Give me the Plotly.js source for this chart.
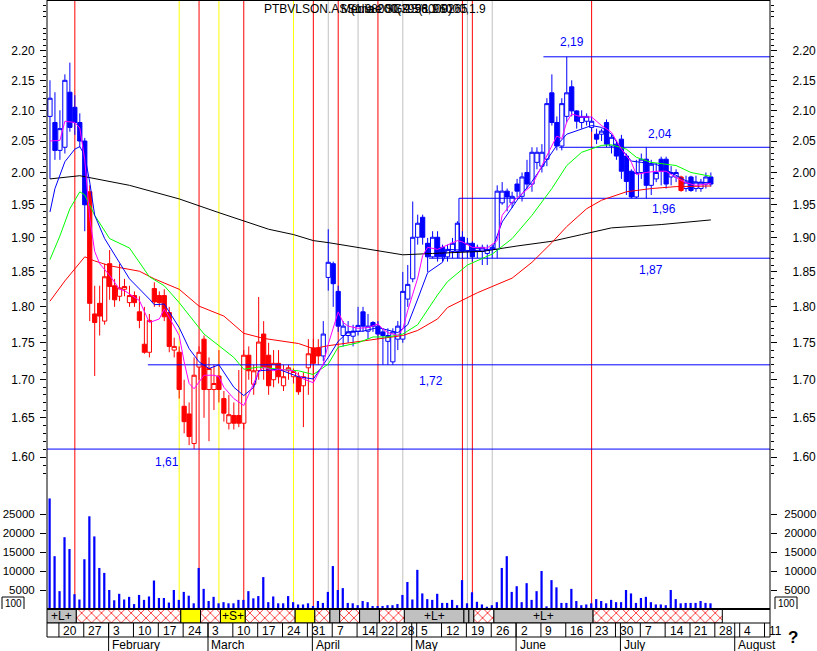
<!DOCTYPE html>
<html><head><meta charset="utf-8">
<script src="https://cdn.plot.ly/plotly-3.0.1.min.js"></script>
<style>html,body{margin:0;padding:0;background:#fff;}#chart{width:817px;height:651px;}</style>
</head><body><div id="chart"></div>
<script>
// ---------- trading calendar (categories) ----------
const START = '2014-01-16', END = '2014-08-12';
const holidays = ['2014-04-18', '2014-04-21', '2014-05-01'];
const monthNames = ['January','February','March','April','May','June','July','August','September','October','November','December'];

// ---------- daily candles ----------
const openP = [2.090,2.080,2.035,2.040,2.130,2.105,2.080,2.050,1.970,1.790,1.805,1.780,1.862,1.830,1.815,1.825,1.806,1.816,1.793,1.748,
1.737,1.826,1.816,1.816,1.792,1.740,1.737,1.665,1.655,1.617,1.717,1.755,1.687,1.687,1.705,1.675,1.643,1.653,1.653,1.643,
1.733,1.694,1.712,1.762,1.733,1.700,1.722,1.692,1.712,1.704,1.704,1.692,1.716,1.743,1.743,1.732,1.842,1.862,1.822,1.760,
1.760,1.759,1.766,1.793,1.766,1.778,1.773,1.765,1.752,1.724,1.755,1.755,1.811,1.840,1.901,1.931,1.892,1.872,1.901,1.886,
1.872,1.880,1.880,1.901,1.880,1.892,1.880,1.880,1.877,1.883,1.883,1.953,1.971,1.953,1.982,1.963,2.000,1.982,2.016,2.010,
2.021,2.129,2.080,2.042,2.090,2.139,2.099,2.080,2.082,2.072,2.061,2.061,2.080,2.042,2.045,2.053,2.026,2.002,1.962,2.000,
2.021,1.980,1.990,2.021,2.021,1.993,1.993,1.993,1.975,1.993,1.975,1.975,1.982,1.993];
const highP = [2.150,2.130,2.100,2.160,2.180,2.125,2.095,2.055,1.980,1.830,1.830,1.862,1.882,1.840,1.862,1.840,1.830,1.822,1.815,1.800,
1.790,1.835,1.822,1.825,1.800,1.757,1.745,1.700,1.670,1.730,1.745,1.760,1.730,1.720,1.740,1.685,1.680,1.670,1.713,1.740,
1.745,1.720,1.814,1.780,1.750,1.740,1.740,1.720,1.720,1.715,1.710,1.710,1.755,1.755,1.755,1.780,1.913,1.865,1.830,1.780,
1.780,1.775,1.800,1.800,1.790,1.780,1.780,1.770,1.770,1.770,1.780,1.850,1.860,1.955,1.935,1.935,1.900,1.910,1.910,1.890,
1.890,1.900,1.925,1.910,1.900,1.895,1.890,1.890,1.890,1.890,1.980,1.985,1.975,1.970,1.990,2.000,2.020,2.040,2.040,2.045,
2.120,2.160,2.090,2.120,2.190,2.150,2.100,2.100,2.095,2.090,2.070,2.070,2.085,2.060,2.050,2.060,2.030,2.005,2.020,2.030,
2.040,2.020,2.015,2.025,2.025,2.010,2.005,1.995,1.995,1.995,1.995,1.990,2.000,2.000];
const lowP = [1.990,2.020,2.020,2.030,2.065,2.060,2.040,1.910,1.780,1.705,1.760,1.775,1.810,1.800,1.808,1.815,1.800,1.800,1.770,1.735,
1.730,1.800,1.800,1.780,1.737,1.730,1.675,1.630,1.615,1.610,1.700,1.650,1.620,1.660,1.670,1.645,1.635,1.635,1.638,1.635,
1.700,1.680,1.700,1.700,1.680,1.690,1.695,1.685,1.700,1.695,1.680,1.638,1.680,1.700,1.720,1.725,1.823,1.800,1.765,1.745,
1.750,1.745,1.760,1.765,1.755,1.765,1.755,1.720,1.720,1.720,1.740,1.750,1.800,1.835,1.890,1.890,1.850,1.870,1.865,1.865,
1.865,1.870,1.870,1.870,1.870,1.865,1.870,1.860,1.860,1.870,1.870,1.950,1.940,1.945,1.962,1.955,1.975,1.970,2.005,2.000,
2.010,2.075,2.035,2.035,2.080,2.090,2.070,2.070,2.075,2.065,2.045,2.050,2.040,2.030,2.020,1.990,1.965,1.960,1.960,1.990,
1.960,1.965,1.985,1.980,1.975,1.980,1.985,1.970,1.970,1.970,1.970,1.970,1.975,1.978];
const closeP = [2.120,2.035,2.070,2.150,2.072,2.080,2.050,1.950,1.805,1.778,1.787,1.843,1.829,1.810,1.827,1.829,1.816,1.806,1.781,1.737,
1.781,1.807,1.806,1.786,1.745,1.745,1.687,1.645,1.626,1.706,1.737,1.687,1.715,1.695,1.687,1.656,1.654,1.643,1.643,1.733,
1.712,1.712,1.751,1.717,1.692,1.722,1.704,1.704,1.716,1.711,1.684,1.704,1.735,1.722,1.732,1.762,1.864,1.833,1.773,1.773,
1.765,1.766,1.774,1.773,1.773,1.773,1.762,1.760,1.760,1.765,1.773,1.822,1.832,1.901,1.922,1.901,1.872,1.901,1.872,1.872,
1.883,1.892,1.922,1.880,1.892,1.872,1.886,1.886,1.883,1.886,1.971,1.971,1.962,1.963,1.971,1.993,1.982,2.032,2.032,2.032,
2.111,2.080,2.042,2.111,2.129,2.099,2.082,2.090,2.090,2.082,2.053,2.066,2.045,2.056,2.026,2.002,1.986,1.962,2.000,2.021,
1.980,2.013,2.000,2.002,1.982,2.000,2.000,1.972,1.985,1.972,1.985,1.985,1.993,1.982];
// candle colour per day: b = blue, r = red
const candleColor = 'bbbbbbbb' + 'r'.repeat(47) + 'b'.repeat(72) + 'r' + 'bbbbbb';

// ---------- volume ----------
const volume = [29100,13900,4700,18900,15800,3900,2500,13100,24400,19100,10800,9500,5000,2300,4000,2500,3200,1300,3700,2400,
3300,7500,2900,2900,1700,5000,2400,4500,3500,1500,10800,5300,2100,3200,1500,1800,1500,1500,2400,2400,
4700,2800,3400,8400,1800,3300,1500,1500,3400,1800,1200,1200,1500,800,2100,1600,4500,11300,5000,5500,
1600,1500,1000,2100,1800,800,800,800,1000,1000,1300,3700,7100,2500,10300,4100,2600,2400,4000,1600,
1600,2400,1000,7600,1500,4400,1900,1200,600,1000,1800,10800,13900,4500,6000,1800,6800,2400,4700,10000,
700,7600,5700,1600,1600,5300,2100,1000,1200,1500,2600,2100,1500,2400,1800,1800,5000,4100,1600,2900,
3200,1800,1200,1200,1000,5000,2600,1500,1600,1600,1600,2100,1600,1500];

// ---------- moving averages (day index, value) ----------
const maMagentaIdx = [0,2,3,5,6,7,8,9,10,12,14,15,18,19,20,22,23,24,26,27,28,29,30,31,33,34,35,37,39,40,42,43,45,46,49,51,53,55,56,58,59,60,62,64,66,67,68,70,71,72,74,75,76,78,82,83,85,88,90,91,93,95,97,99,101,102,103,104,105,107,109,111,113,115,117,118,120,122,124,126,128,130,133];
const maMagentaVal = [2.050,2.051,2.082,2.080,2.071,2.020,1.930,1.880,1.862,1.845,1.825,1.823,1.809,1.793,1.778,1.783,1.797,1.785,1.760,1.724,1.695,1.688,1.697,1.706,1.706,1.704,1.690,1.675,1.666,1.681,1.710,1.717,1.712,1.714,1.712,1.701,1.696,1.721,1.748,1.793,1.778,1.773,1.770,1.771,1.776,1.769,1.764,1.760,1.769,1.795,1.841,1.874,1.886,1.883,1.896,1.894,1.886,1.885,1.896,1.934,1.954,1.967,1.980,2.011,2.043,2.058,2.054,2.081,2.094,2.089,2.089,2.075,2.064,2.037,2.016,1.997,2.000,2.002,2.002,1.992,1.984,1.980,1.983];
const maBlueIdx = [0,1,3,5,6,7,8,9,11,14,16,20,21,23,24,26,28,30,32,34,37,39,41,42,46,50,53,56,58,60,63,66,70,72,74,76,79,80,85,89,91,94,97,100,102,104,107,109,111,113,115,117,119,122,125,128,131,133];
const maBlueVal = [1.939,1.975,2.017,2.037,2.041,2.027,1.985,1.934,1.899,1.864,1.840,1.811,1.803,1.804,1.793,1.771,1.742,1.724,1.715,1.720,1.690,1.679,1.690,1.712,1.714,1.704,1.701,1.730,1.752,1.765,1.766,1.771,1.764,1.775,1.811,1.849,1.864,1.883,1.881,1.883,1.924,1.957,1.986,2.020,2.043,2.061,2.069,2.075,2.072,2.061,2.037,2.018,2.016,2.013,2.000,1.987,1.984,1.985];
const maGreenIdx = [0,2,4,6,7,9,12,16,20,23,26,29,31,34,37,39,42,46,50,53,56,58,62,65,68,71,74,78,80,84,89,93,97,101,104,107,111,113,116,118,121,126,129,133];
const maGreenVal = [1.868,1.903,1.944,1.970,1.965,1.934,1.899,1.885,1.843,1.830,1.806,1.779,1.762,1.746,1.730,1.714,1.717,1.714,1.712,1.707,1.721,1.744,1.750,1.758,1.758,1.762,1.775,1.817,1.836,1.860,1.876,1.899,1.934,1.975,2.011,2.032,2.043,2.044,2.037,2.024,2.016,2.011,2.000,1.994];
const maRedIdx = [0,3,7,9,12,18,21,26,30,35,39,43,50,53,56,64,71,74,78,80,86,93,97,101,104,108,111,116,121,126,133];
const maRedVal = [1.808,1.837,1.872,1.866,1.859,1.851,1.840,1.825,1.801,1.787,1.763,1.756,1.749,1.742,1.746,1.753,1.760,1.767,1.783,1.799,1.820,1.841,1.864,1.893,1.917,1.944,1.957,1.970,1.975,1.978,1.979];
const maBlackIdx = [0,6,16,26,34,40,44,49,53,56,63,71,77,87,94,101,107,113,123,133];
const maBlackVal = [1.990,1.995,1.980,1.959,1.938,1.923,1.913,1.905,1.896,1.893,1.885,1.875,1.877,1.880,1.888,1.895,1.905,1.915,1.920,1.927];

// ---------- signals (day index) ----------
const redSignals = [5,30,39,53,58,66,83,85,109];
const yellowSignals = [26,34,49];
const greySignals = [56,62,71,84,89];

// ---------- state band: start day and type ----------
const bandStart = [-1,5,26,30,34,39,49,53,56,58,62,66,71,83,84,85,89,109];
const bandType  = ['L','X','Y','X','S','X','Y','X','G','X','G','X','L','G','G','X','L','X'];
const bandEnd = 135;

// ---------- support / resistance levels ----------
const levels = [2.19, 2.04, 1.96, 1.87, 1.72, 1.61];
const levelText = ['2,19','2,04','1,96','1,87','1,72','1,61'];

// ---------- axis labels ----------
const priceTicks = [1.60,1.65,1.70,1.75,1.80,1.85,1.90,1.95,2.00,2.05,2.10,2.15,2.20];
const volTicks = [5000,10000,15000,20000,25000];

// ================= build =================
const days = [];
for (let d = new Date(START + 'T00:00:00Z'); d <= new Date(END + 'T00:00:00Z'); d.setUTCDate(d.getUTCDate() + 1)) {
  const wd = d.getUTCDay(); const s = d.toISOString().slice(0, 10);
  if (wd > 0 && wd < 6 && !holidays.includes(s)) days.push(s);
}
const weekIdx = [], monthIdx = [];
for (let i = 1; i < days.length; i++) {
  const a = new Date(days[i-1] + 'T00:00:00Z'), b = new Date(days[i] + 'T00:00:00Z');
  if (b.getUTCDay() < a.getUTCDay()) weekIdx.push(i);
  if (b.getUTCMonth() !== a.getUTCMonth()) monthIdx.push(i);
}

const XMIN = -0.6, XMAX = 144.9;
const PY = px => (651 - px) / 651;
const PXf = px => (px - 47) / 723;
const FONT = 'Liberation Sans, Arial, sans-serif';

const idx = closeP.map((_, i) => i);
function candleTrace(col, color) {
  const sel = idx.filter(i => candleColor[i] === col);
  return {
    type: 'candlestick', xaxis: 'x', yaxis: 'y', hoverinfo: 'skip', showlegend: false,
    x: sel, open: sel.map(i => openP[i]), high: sel.map(i => highP[i]),
    low: sel.map(i => lowP[i]), close: sel.map(i => closeP[i]),
    increasing: { line: { color: color, width: 1 }, fillcolor: '#FFFFFF' },
    decreasing: { line: { color: color, width: 1 }, fillcolor: color },
    whiskerwidth: 0
  };
}
function maTrace(ix, v, color) {
  return { type: 'scatter', mode: 'lines', x: ix, y: v, xaxis: 'x', yaxis: 'y',
    line: { color: color, width: 1 }, hoverinfo: 'skip', showlegend: false };
}

const traces = [];
// S/R lines
const levelStartPos = [99.3, 102.5, 82.3, 76.3, 19.7, XMIN];
levels.forEach((lv, k) => traces.push({ type: 'scatter', mode: 'lines', x: [levelStartPos[k], XMAX], y: [lv, lv],
  xaxis: 'x', yaxis: 'y', line: { color: '#0000FF', width: 1 }, hoverinfo: 'skip', showlegend: false }));
traces.push({ type: 'scatter', mode: 'lines', x: [82.3, 82.3], y: [levels[3], levels[2]], xaxis: 'x', yaxis: 'y',
  line: { color: '#0000FF', width: 1 }, hoverinfo: 'skip', showlegend: false });

traces.push(candleTrace('b', '#0000FF'));
traces.push(candleTrace('r', '#FF0000'));
traces.push(maTrace(maBlackIdx, maBlackVal, '#000000'));
traces.push(maTrace(maRedIdx, maRedVal, '#FF0000'));
traces.push(maTrace(maGreenIdx, maGreenVal, '#00FF00'));
traces.push(maTrace(maBlueIdx, maBlueVal, '#0000FF'));
traces.push(maTrace(maMagentaIdx, maMagentaVal, '#FF00FF'));

// volume
traces.push({ type: 'bar', x: idx, y: volume, xaxis: 'x', yaxis: 'y2', width: 0.45, offset: -0.3,
  marker: { color: '#0000FF', line: { width: 0 } }, hoverinfo: 'skip', showlegend: false });

// band row
const bandStyles = {
  L: { color: '#C0C0C0' }, G: { color: '#C0C0C0' }, Y: { color: '#FFFF00' }, S: { color: '#FFFF00' },
  X: { color: '#FFFFFF', pattern: { shape: 'x', fgcolor: '#FF0000', bgcolor: '#FFFFFF', size: 7, solidity: 0.2, fillmode: 'replace' } }
};
const bandAnn = [];
['L','G','Y','S','X'].forEach(t => {
  const xs = [], ws = [];
  bandStart.forEach((s, k) => {
    if (bandType[k] !== t) return;
    const a = s + 0.3, b = (k + 1 < bandStart.length ? bandStart[k+1] : bandEnd) + 0.3;
    xs.push((a + b) / 2); ws.push(b - a);
    if (t === 'L' || t === 'S') bandAnn.push({ x: Math.max((a + b) / 2, (XMIN + b) / 2), text: t === 'L' ? '+L+' : '+S+' });
  });
  const st = bandStyles[t];
  const marker = { color: st.color, line: { color: '#000000', width: 1 } };
  if (st.pattern) marker.pattern = st.pattern;
  traces.push({ type: 'bar', x: xs, y: xs.map(() => 1), base: xs.map(() => 0), width: ws,
    xaxis: 'x', yaxis: 'y3', marker: marker, hoverinfo: 'skip', showlegend: false });
});

// dummy traces for right-hand axes
traces.push({ type: 'scatter', mode: 'markers', x: [0], y: [2], xaxis: 'x', yaxis: 'y4', marker: { opacity: 0 }, hoverinfo: 'skip', showlegend: false });
traces.push({ type: 'scatter', mode: 'markers', x: [0], y: [1], xaxis: 'x', yaxis: 'y5', marker: { opacity: 0 }, hoverinfo: 'skip', showlegend: false });

// ---------- shapes ----------
const shapes = [];
const vline = (i, color) => shapes.push({ type: 'line', xref: 'x', yref: 'paper', x0: i, x1: i, y0: PY(609), y1: 1,
  line: { color: color, width: 1 }, layer: 'below' });
greySignals.forEach(i => vline(i, '#C0C0C0'));
yellowSignals.forEach(i => vline(i, '#FFFF00'));
redSignals.forEach(i => vline(i, '#FF0000'));
const pline = (x0, y0, x1, y1, w) => shapes.push({ type: 'line', xref: 'paper', yref: 'paper', x0: x0, y0: y0, x1: x1, y1: y1,
  line: { color: '#000000', width: w || 1 } });
pline(0, PY(0.5), 1, PY(0.5));
pline(0, PY(0), 0, PY(637));
pline(1, PY(0), 1, PY(637));
pline(0, PY(609), 1, PY(609), 2);
pline(0, PY(623), 1, PY(623));
pline(0, PY(637), 1, PY(637));
weekIdx.forEach(i => shapes.push({ type: 'line', xref: 'x', yref: 'paper', x0: i - 0.2, x1: i - 0.2, y0: PY(623), y1: PY(637),
  line: { color: '#000000', width: 1 } }));
monthIdx.forEach(i => shapes.push({ type: 'line', xref: 'x', yref: 'paper', x0: i - 0.2, x1: i - 0.2, y0: PY(623), y1: PY(651),
  line: { color: '#000000', width: 1 } }));
// "100" boxes
[[2, 24], [775, 797]].forEach(([a, b]) => {
  pline(PXf(a), PY(597), PXf(b), PY(597));
  pline(PXf(b), PY(597), PXf(b), PY(609));
  pline(PXf(a), PY(597), PXf(a), PY(609));
});

// ---------- annotations ----------
const ann = [];
const levelAnnPos = [105, 122.7, 123.5, 121, 76.7, 23.6];
const levelShift = [15, 13, -11, -12, -16, -13];
levels.forEach((lv, k) => ann.push({ xref: 'x', yref: 'y', x: levelAnnPos[k], y: Math.log10(lv), yshift: levelShift[k],
  text: levelText[k], showarrow: false, font: { family: FONT, size: 12, color: '#0000FF' } }));
weekIdx.forEach(i => ann.push({ xref: 'x', yref: 'paper', x: i + 0.3, y: PY(630.5), xanchor: 'left', yanchor: 'middle',
  text: String(Number(days[i].slice(8, 10))), showarrow: false, font: { family: FONT, size: 12, color: '#000' } }));
monthIdx.forEach(i => {
  const m = Number(days[i].slice(5, 7)) - 1;
  ann.push({ xref: 'x', yref: 'paper', x: i + 0.1, y: PY(645), xanchor: 'left', yanchor: 'middle',
    text: monthNames[m], showarrow: false, font: { family: FONT, size: 12, color: '#000' } });
});
bandAnn.forEach(b => ann.push({ xref: 'x', yref: 'paper', x: b.x, y: PY(615.5), xanchor: 'center', yanchor: 'middle',
  text: b.text, showarrow: false, font: { family: FONT, size: 12, color: '#000' } }));
// title (overlapping texts, as in the original)
const titleTexts = [[262, 'PTBVLSON.AS (1.98000, 1.98000)'], [339, 'Média 200(3956,1.9265'], [345, 'Sonae SGPS(1.96000,1.9']];
titleTexts.forEach(([px, t]) => ann.push({ xref: 'paper', yref: 'paper', x: PXf(px), y: PY(9), xanchor: 'left', yanchor: 'middle',
  text: t, showarrow: false, font: { family: FONT, size: 12, color: '#000' }, bgcolor: 'rgba(0,0,0,0)' }));
ann.push({ xref: 'paper', yref: 'paper', x: PXf(13), y: PY(603), text: '100', showarrow: false, xanchor: 'center', yanchor: 'middle',
  font: { family: FONT, size: 10, color: '#000' } });
ann.push({ xref: 'paper', yref: 'paper', x: PXf(786), y: PY(603), text: '100', showarrow: false, xanchor: 'center', yanchor: 'middle',
  font: { family: FONT, size: 10, color: '#000' } });
ann.push({ xref: 'paper', yref: 'paper', x: PXf(793), y: PY(637), text: '<b>?</b>', showarrow: false, xanchor: 'center', yanchor: 'middle',
  font: { family: FONT, size: 17, color: '#000' } });

// ---------- axes ----------
const logRange = [0.19766, 0.35979];
const minorVals = [];
for (let k = 158; k <= 229; k++) if (k % 5 !== 0) minorVals.push(k / 100);
const priceAxis = (side, standoff) => ({
  type: 'log', range: logRange, domain: [PY(476), 1], side: side,
  tickmode: 'array', tickvals: priceTicks, ticktext: priceTicks.map(v => v.toFixed(2)),
  ticks: 'outside', ticklen: 6, tickwidth: 1, tickcolor: '#000', ticklabelstandoff: standoff,
  minor: { tickmode: 'array', tickvals: minorVals, ticks: 'outside', ticklen: 3, tickcolor: '#000', tickwidth: 1, showgrid: false },
  showgrid: false, zeroline: false, showline: false, fixedrange: true,
  tickfont: { family: FONT, size: 12, color: '#000' }
});
const volAxis = (side, standoff) => ({
  range: [0, 33947], domain: [PY(609), PY(480)], side: side,
  tickmode: 'array', tickvals: volTicks, ticktext: volTicks.map(String),
  ticks: 'outside', ticklen: 6, tickwidth: 1, tickcolor: '#000', ticklabelstandoff: standoff,
  showgrid: false, zeroline: false, showline: false, fixedrange: true,
  tickfont: { family: FONT, size: 11.5, color: '#000' }
});

const layout = {
  width: 817, height: 651,
  margin: { l: 47, r: 47, t: 0, b: 0, pad: 0 },
  paper_bgcolor: '#FFFFFF', plot_bgcolor: 'rgba(0,0,0,0)',
  showlegend: false, hovermode: false,
  barmode: 'overlay', boxgap: 0.15, boxgroupgap: 0, boxmode: 'overlay',
  font: { family: FONT, size: 12, color: '#000' },
  xaxis: { range: [XMIN, XMAX], anchor: 'y2', visible: false, showgrid: false, zeroline: false, fixedrange: true,
    rangeslider: { visible: false } },
  yaxis: Object.assign(priceAxis('left', 3), { anchor: 'x' }),
  yaxis4: Object.assign(priceAxis('right', 13), { overlaying: 'y', anchor: 'x' }),
  yaxis2: Object.assign(volAxis('left', 3), { anchor: 'x' }),
  yaxis5: Object.assign(volAxis('right', 5), { overlaying: 'y2', anchor: 'x' }),
  yaxis3: { domain: [PY(623), PY(608)], range: [0, 1], visible: false, fixedrange: true, anchor: 'x' },
  shapes: shapes, annotations: ann
};

Plotly.newPlot('chart', traces, layout, { staticPlot: true, displayModeBar: false });
</script>
</body></html>
